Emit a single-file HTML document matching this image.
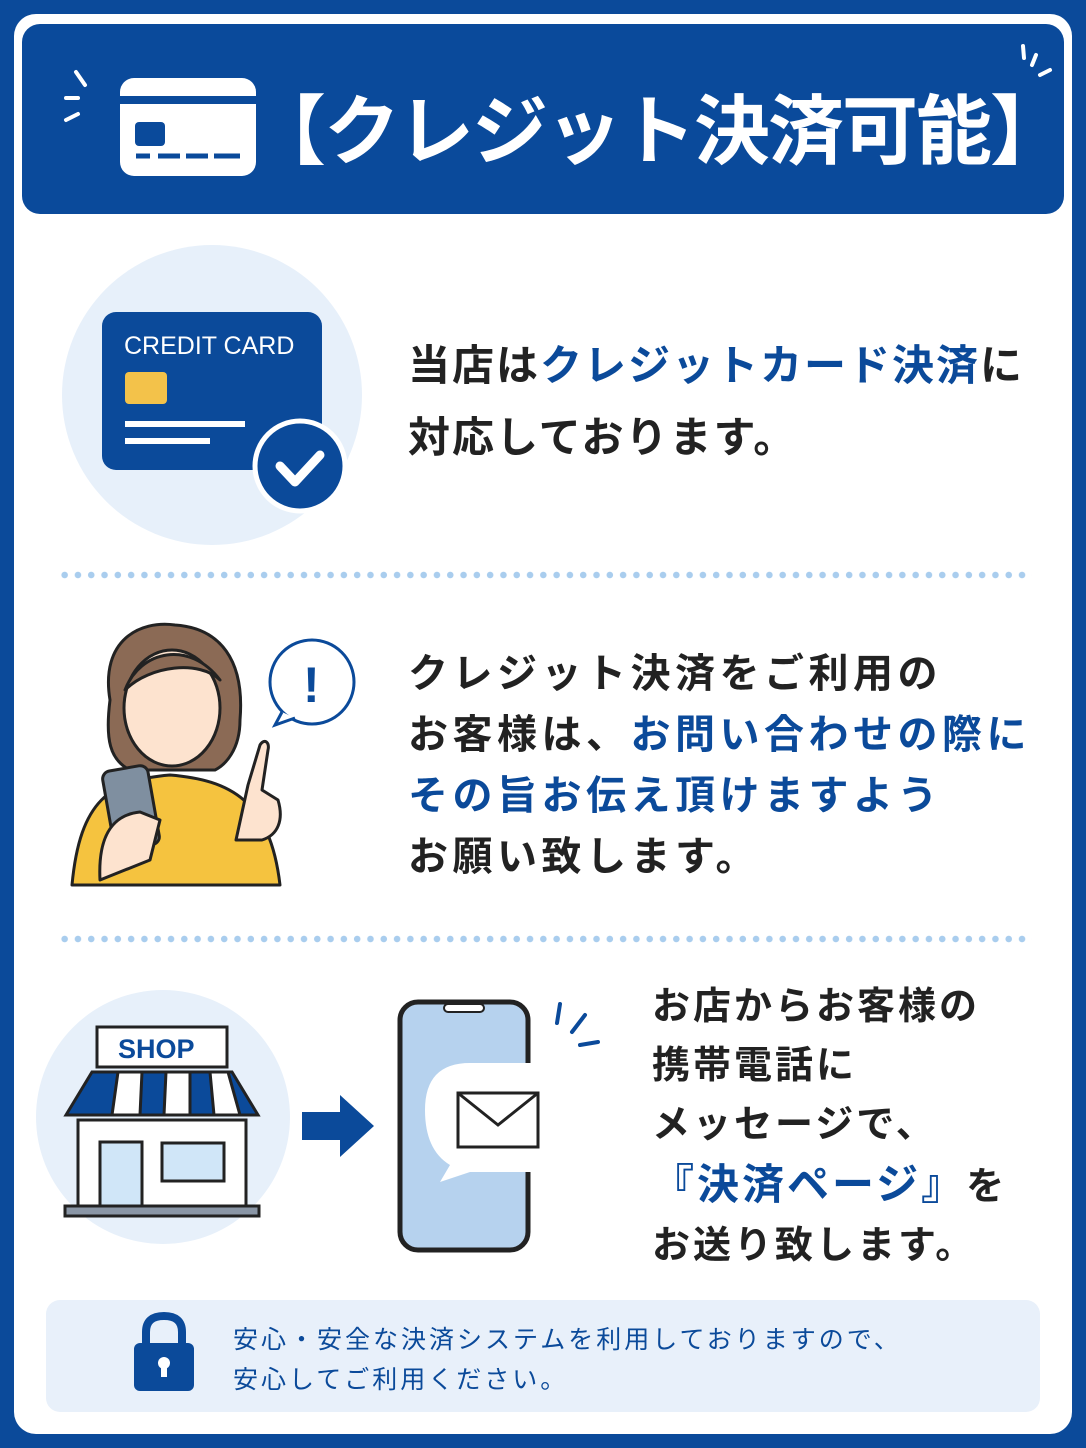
<!DOCTYPE html>
<html><head><meta charset="utf-8"><style>
body{margin:0;width:1086px;height:1448px;background:#0b4a9a;overflow:hidden;font-family:"Liberation Sans","Noto Sans CJK JP",sans-serif}
.frame{position:absolute;left:14px;top:14px;width:1058px;height:1420px;background:#fff;border-radius:22px}
.hdr{position:absolute;left:22px;top:24px;width:1042px;height:190px;background:#0a4a9b;border-radius:18px}
.t{position:absolute;font-weight:bold;color:#222;white-space:nowrap;letter-spacing:1px}
.b{color:#0b4a9a}
.dots{position:absolute;left:58px;width:974px;height:8px;background:radial-gradient(circle,#a9cdee 3px,transparent 3.5px) 0 0/13.3px 8px repeat-x}
</style></head><body>
<div class="frame"></div>
<div class="hdr"></div>
<svg style="position:absolute;left:0;top:0" width="1086" height="1448">
 <rect x="120" y="78" width="136" height="98" rx="14" fill="#fff"/>
 <rect x="120" y="96" width="136" height="8" fill="#0a4a9b"/>
 <rect x="135" y="122" width="30" height="24" rx="4" fill="#0a4a9b"/>
 <g stroke="#0a4a9b" stroke-width="5"><line x1="136" y1="156" x2="150" y2="156"/><line x1="158" y1="156" x2="180" y2="156"/><line x1="186" y1="156" x2="208" y2="156"/><line x1="214" y1="156" x2="240" y2="156"/></g>
 <g stroke="#fff" stroke-width="4" stroke-linecap="round"><line x1="76" y1="72" x2="85" y2="85"/><line x1="66" y1="98" x2="78" y2="98"/><line x1="66" y1="120" x2="78" y2="114"/><line x1="1023" y1="46" x2="1024" y2="58"/><line x1="1036" y1="55" x2="1032" y2="65"/><line x1="1040" y1="75" x2="1050" y2="70"/></g>
 <circle cx="212" cy="395" r="150" fill="#e7f0fa"/>
 <rect x="102" y="312" width="220" height="158" rx="14" fill="#0b4a9a"/>
 <text x="124" y="354" font-size="25" fill="#fff" font-family="Liberation Sans">CREDIT CARD</text>
 <rect x="125" y="372" width="42" height="32" rx="4" fill="#f3c24a"/>
 <g stroke="#fff" stroke-width="6"><line x1="125" y1="424" x2="245" y2="424"/><line x1="125" y1="441" x2="210" y2="441"/></g>
 <circle cx="300" cy="466" r="45" fill="#0b4a9a" stroke="#fff" stroke-width="5"/>
 <polyline points="280,466 295,482 320,455" fill="none" stroke="#fff" stroke-width="9" stroke-linecap="round" stroke-linejoin="round"/>
 <g stroke="#222" stroke-width="3" stroke-linejoin="round">
  <path d="M72,885 C80,800 110,780 170,775 C230,780 270,800 280,885 Z" fill="#f5c33f"/>
  <path d="M110,700 C100,640 140,620 175,625 C220,628 245,660 240,720 C240,750 225,765 215,770 L130,770 C110,760 105,740 110,700Z" fill="#8b6a55"/>
  <ellipse cx="172" cy="708" rx="48" ry="58" fill="#fde3cf"/>
  <path d="M125,690 C140,650 190,640 220,680 C200,660 150,665 125,690Z" fill="#8b6a55"/>
  <rect x="108" y="768" width="46" height="80" rx="8" fill="#7f8fa0" transform="rotate(-10 130 808)"/>
  <path d="M100,880 C98,840 110,815 140,812 L160,820 L150,860 Z" fill="#fde3cf"/>
  <path d="M236,840 L248,785 L260,745 C264,738 270,742 268,750 L262,790 L278,800 C284,820 278,835 262,840 Z" fill="#fde3cf"/>
 </g>
 <circle cx="312" cy="682" r="42" fill="#fff" stroke="#0b4a9a" stroke-width="3"/>
 <path d="M282,712 L275,725 L295,718" fill="#fff" stroke="#0b4a9a" stroke-width="3"/>
 <text x="303" y="702" font-size="50" font-weight="bold" fill="#0b4a9a" font-family="Liberation Sans">!</text>
 <circle cx="163" cy="1117" r="127" fill="#e7f0fa"/>
 <g stroke="#222" stroke-width="3">
  <rect x="97" y="1027" width="130" height="40" fill="#fff"/>
  <rect x="78" y="1120" width="168" height="90" fill="#fff"/>
  <path d="M92,1072 L232,1072 L258,1115 L66,1115 Z" fill="#0b4a9a"/>
  <path d="M118,1072 L112,1115 L140,1115 L142,1072Z M166,1072 L164,1115 L190,1115 L190,1072Z M210,1072 L214,1115 L240,1115 L228,1072Z" fill="#fff"/>
  <rect x="100" y="1142" width="42" height="66" fill="#d0e6f8"/>
  <rect x="162" y="1143" width="62" height="38" fill="#d0e6f8"/>
  <rect x="65" y="1206" width="194" height="10" fill="#8a96a6"/>
 </g>
 <text x="118" y="1058" font-size="27" font-weight="bold" fill="#0b4a9a" font-family="Liberation Sans">SHOP</text>
 <polygon points="302,1112 340,1112 340,1095 374,1126 340,1157 340,1140 302,1140" fill="#0b4a9a"/>
 <rect x="400" y="1002" width="128" height="248" rx="18" fill="#b6d2ee" stroke="#222" stroke-width="5"/>
 <rect x="444" y="1004" width="40" height="8" rx="4" fill="#fff" stroke="#222" stroke-width="2"/>
 <path d="M470,1063 L540,1063 Q572,1063 572,1110 Q572,1172 530,1172 L470,1172 L440,1182 L450,1165 Q425,1150 425,1110 Q425,1063 470,1063Z" fill="#fff"/>
 <rect x="458" y="1093" width="80" height="54" fill="#fff" stroke="#222" stroke-width="3"/>
 <polyline points="458,1093 498,1125 538,1093" fill="none" stroke="#222" stroke-width="3"/>
 <g stroke="#0b4a9a" stroke-width="4" stroke-linecap="round"><line x1="560" y1="1004" x2="557" y2="1023"/><line x1="585" y1="1015" x2="572" y2="1032"/><line x1="580" y1="1045" x2="598" y2="1042"/></g>
 <rect x="46" y="1300" width="994" height="112" rx="14" fill="#e8f0fa"/>
 <path d="M146,1345 L146,1332 Q146,1316 164,1316 Q182,1316 182,1332 L182,1345" fill="none" stroke="#0b4a9a" stroke-width="8"/>
 <rect x="134" y="1343" width="60" height="48" rx="6" fill="#0b4a9a"/>
 <circle cx="164" cy="1363" r="6" fill="#fff"/><rect x="161" y="1364" width="6" height="13" fill="#fff"/>
</svg>
<div class="t" style="left:250px;top:70px;font-size:76px;color:#fff;letter-spacing:-2px">【クレジット決済可能】</div>
<div class="t" style="left:408px;top:330px;font-size:42px;line-height:72px;letter-spacing:2px">当店は<span class="b">クレジットカード決済</span>に<br>対応しております。</div>
<div class="dots" style="top:571px"></div>
<div class="t" style="left:408px;top:644px;font-size:40px;line-height:61px;letter-spacing:4.5px">クレジット決済をご利用の<br>お客様は、<span class="b">お問い合わせの際に</span><br><span class="b">その旨お伝え頂けますよう</span><br>お願い致します。</div>
<div class="dots" style="top:935px"></div>
<div class="t" style="left:652px;top:978px;font-size:38px;line-height:59px;letter-spacing:3px">お店からお客様の<br>携帯電話に<br>メッセージで、<br><span class="b" style="font-size:42px">『決済ページ』</span>を<br>お送り致します。</div>
<div class="t" style="left:233px;top:1320px;font-size:25px;line-height:40px;font-weight:normal;color:#0b4a9a;letter-spacing:3px">安心・安全な決済システムを利用しておりますので、<br>安心してご利用ください。</div>
</body></html>
